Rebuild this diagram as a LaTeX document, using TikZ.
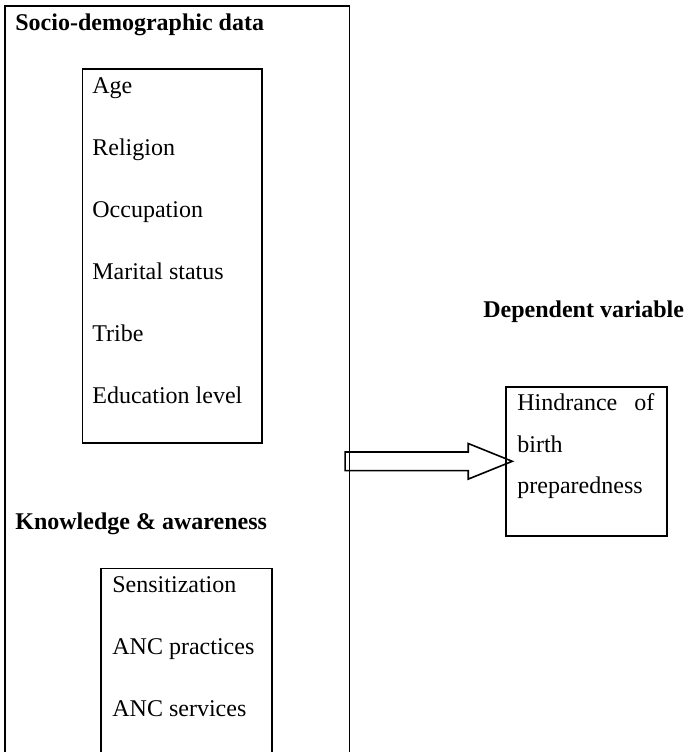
\documentclass[tikz,border=0pt]{standalone}
\usepackage{fontspec}
\setmainfont{Liberation Serif}
\usetikzlibrary{shapes.arrows}
\tikzstyle{frame}=[draw, line width=0.8pt, anchor=north west, inner sep=0]
\tikzstyle{heading}=[anchor=base west, inner sep=0, yshift=-1pt, font=\fontsize{12}{14}\selectfont\bfseries]
\tikzstyle{factor}=[anchor=base west, inner sep=0, yshift=-1pt]
\tikzstyle{fat arrow}=[draw, line width=0.8pt, single arrow, inner xsep=0, inner ysep=4.25pt,
  minimum width=0pt, single arrow head extend=4.25pt, single arrow tip angle=44,
  minimum height=83.6pt, anchor=tail]

\begin{document}
\begin{tikzpicture}[x=0.5pt, y=-0.5pt, font=\fontsize{12}{14}\selectfont]
      \useasboundingbox (0, 0) rectangle (689, 752);
      \clip (0, 0) rectangle (689, 752);

      % independent variables
      \node[frame, minimum width=172.2pt, minimum height=397.5pt] (indep) at (4.3, 5) {};
      \node[heading] (socio title) at (15, 28) {Socio-demographic data};
      \node[frame, minimum width=89.65pt, minimum height=186.85pt] (socio) at (81.7, 68.3) {};
      \foreach \y/\t [count=\i] in {91/Age, 153/Religion, 215/Occupation, 277/Marital status, 339/Tribe, 401/Education level}
        \node[factor] (socio-\i) at (92, \y) {\t};

      \node[heading] (know title) at (15, 527) {Knowledge \& awareness};
      \node[frame, minimum width=85.5pt, minimum height=116pt] (know) at (100, 567.7) {};
      \foreach \y/\t [count=\i] in {590/Sensitization, 652/ANC practices, 714/ANC services}
        \node[factor] (know-\i) at (112, \y) {\t};

      % dependent variable
      \node[heading] (dep title) at (483, 315) {Dependent variable};
      \node[frame, minimum width=80.5pt, minimum height=74.5pt] (dep) at (505, 386) {};
      \node[factor] (dep-1) at (517, 408) {\makebox[68.5pt][s]{Hindrance of}};
      \node[factor] (dep-2) at (517, 450) {birth};
      \node[factor] (dep-3) at (517, 491) {preparedness};

      \node[fat arrow] (link) at ([xshift=-3pt]indep.east |- dep.west) {};
    \end{tikzpicture}
\end{document}
